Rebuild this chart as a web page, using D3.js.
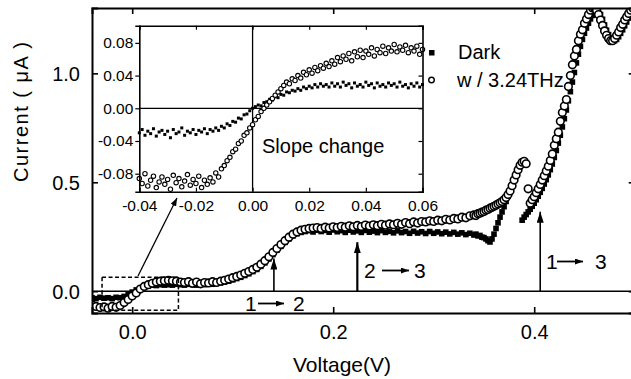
<!DOCTYPE html>
<html>
<head>
<meta charset="utf-8">
<script src="https://cdn.jsdelivr.net/npm/d3@7"></script>
<style>
  html, body { margin: 0; padding: 0; background: #fff; }
  svg { display: block; }
  text { font-family: "Liberation Sans", Arial, Helvetica, sans-serif; fill: #000; }
</style>
</head>
<body>
<svg id="chart" width="631" height="379"></svg>
<script>
// ---------------- DATA ----------------
const xTicks = [0.0, 0.2, 0.4];
const yTicks = [0.0, 0.5, 1.0];
const insetXTicks = [-0.04, -0.02, 0.00, 0.02, 0.04, 0.06];
const insetYTicks = [-0.08, -0.04, 0.00, 0.04, 0.08];
const seriesNames = ["Dark", "w / 3.24THz"];

// Main plot sampling: segment A from -0.040 V step 0.004 V (95 pts), segment B from 0.340 V step 0.002 V (81 pts)
const segA = { start: -0.04, step: 0.004, n: 95 };
const segB = { start: 0.34, step: 0.002, n: 81 };

const thzA = [-0.062,-0.070,-0.075,-0.072,-0.078,-0.070,-0.074,-0.066,-0.052,-0.038,
  -0.022,-0.008,0.010,0.022,0.030,0.036,0.042,0.046,0.048,0.050,
  0.048,0.046,0.042,0.040,0.044,0.036,0.042,0.034,0.040,0.038,
  0.044,0.040,0.046,0.050,0.056,0.062,0.068,0.074,0.082,0.090,
  0.100,0.110,0.124,0.140,0.158,0.178,0.196,0.214,0.232,0.248,
  0.262,0.272,0.280,0.284,0.288,0.290,0.292,0.288,0.294,0.290,
  0.296,0.292,0.298,0.294,0.300,0.296,0.302,0.297,0.304,0.299,
  0.305,0.301,0.307,0.303,0.309,0.305,0.312,0.307,0.315,0.310,
  0.318,0.313,0.320,0.318,0.323,0.320,0.326,0.323,0.330,0.327,
  0.334,0.332,0.340,0.337,0.346];
const thzB = [0.350,0.347,0.356,0.358,0.363,0.366,0.372,0.375,0.381,0.385,
  0.390,0.395,0.400,0.406,0.412,0.420,0.430,0.444,0.460,0.484,
  0.510,0.534,0.558,0.578,0.592,0.596,0.585,0.470,0.404,0.420,
  0.434,0.452,0.470,0.490,0.510,0.530,0.552,0.574,0.600,0.630,
  0.670,0.700,0.730,0.780,0.820,0.850,0.880,0.940,0.990,1.040,
  1.080,1.110,1.150,1.180,1.200,1.230,1.250,1.270,1.290,1.300,
  1.300,1.290,1.270,1.245,1.220,1.195,1.175,1.160,1.150,1.150,
  1.160,1.175,1.190,1.210,1.225,1.245,1.260,1.275,1.290,1.300,
  1.310];
const darkA = [-0.030,-0.034,-0.028,-0.032,-0.030,-0.034,-0.028,-0.030,-0.024,-0.014,
  -0.004,0.006,0.012,0.020,0.024,0.028,0.026,0.030,0.028,0.030,
  0.028,0.032,0.030,0.028,0.032,0.030,0.028,0.032,0.030,0.034,
  0.032,0.036,0.038,0.042,0.046,0.052,0.058,0.064,0.072,0.080,
  0.090,0.100,0.114,0.130,0.148,0.168,0.188,0.206,0.224,0.240,
  0.254,0.264,0.270,0.274,0.278,0.272,0.280,0.274,0.279,0.271,
  0.281,0.273,0.278,0.270,0.280,0.272,0.277,0.270,0.279,0.271,
  0.276,0.269,0.278,0.270,0.275,0.268,0.277,0.269,0.274,0.266,
  0.275,0.267,0.273,0.265,0.274,0.266,0.272,0.264,0.271,0.263,
  0.270,0.262,0.268,0.260,0.266];
const darkB = [0.258,0.262,0.254,0.256,0.248,0.246,0.240,0.232,0.226,0.240,
  0.262,0.288,0.314,0.340,0.364,0.388,0.412,0.436,0.460,0.486,
  0.512,0.538,0.556,null,0.326,0.340,0.352,0.364,0.376,0.390,
  0.404,0.420,0.436,0.454,0.472,0.492,0.512,0.534,0.558,0.584,
  0.614,0.646,0.680,0.716,0.754,0.792,0.832,0.874,0.916,0.960,
  1.004,1.048,1.088,1.124,1.156,1.184,1.208,1.230,1.250,1.266,
  1.280,1.288,1.284,1.270,1.248,1.222,1.198,1.178,1.162,1.152,
  1.150,1.156,1.168,1.184,1.200,1.218,1.236,1.254,1.270,1.286,
  1.300];

// Inset sampling: from -0.040 V step 0.001 V (101 pts)
const insetSeg = { start: -0.04, step: 0.001, n: 101 };
const insetThz = [-0.086,-0.092,-0.080,-0.095,-0.088,-0.083,-0.097,-0.090,-0.084,-0.093,
  -0.087,-0.099,-0.082,-0.091,-0.086,-0.096,-0.089,-0.081,-0.094,-0.087,
  -0.092,-0.083,-0.097,-0.088,-0.093,-0.085,-0.090,-0.079,-0.084,-0.074,
  -0.070,-0.064,-0.060,-0.053,-0.050,-0.043,-0.040,-0.033,-0.030,-0.024,
  -0.020,-0.014,-0.010,-0.004,0.000,0.004,0.008,0.012,0.016,0.020,
  0.024,0.028,0.032,0.030,0.036,0.034,0.040,0.037,0.044,0.041,
  0.047,0.043,0.050,0.046,0.052,0.049,0.055,0.051,0.058,0.054,
  0.062,0.057,0.064,0.060,0.067,0.058,0.069,0.063,0.071,0.062,
  0.070,0.066,0.074,0.064,0.072,0.068,0.076,0.067,0.074,0.070,
  0.078,0.069,0.075,0.071,0.077,0.068,0.074,0.070,0.076,0.066,
  0.072];
const insetDark = [-0.030,-0.026,-0.033,-0.028,-0.031,-0.025,-0.034,-0.029,-0.027,-0.032,
  -0.028,-0.036,-0.026,-0.031,-0.029,-0.024,-0.033,-0.028,-0.030,-0.026,
  -0.032,-0.027,-0.029,-0.025,-0.031,-0.026,-0.028,-0.024,-0.027,-0.022,
  -0.024,-0.019,-0.021,-0.016,-0.017,-0.012,-0.013,-0.008,-0.007,-0.003,
  0.000,0.002,0.004,0.003,0.007,0.008,0.011,0.010,0.014,0.013,
  0.017,0.016,0.020,0.019,0.022,0.021,0.024,0.022,0.026,0.024,
  0.027,0.025,0.029,0.026,0.030,0.027,0.029,0.026,0.031,0.027,
  0.030,0.026,0.032,0.028,0.030,0.025,0.031,0.027,0.029,0.026,
  0.032,0.028,0.030,0.025,0.031,0.027,0.029,0.026,0.031,0.028,
  0.030,0.026,0.032,0.027,0.029,0.025,0.030,0.027,0.031,0.026,
  0.029];

// Annotations (data coords)
const arrows = [
  { label: ["1", "2"], v: 0.141, top: 0.150 },
  { label: ["2", "3"], v: 0.224, top: 0.225 },
  { label: ["1", "3"], v: 0.406, top: 0.365 }
];
const zoomBox = { v0: -0.030, v1: 0.046, i0: -0.087, i1: 0.064 };

// ---------------- BUILD ----------------
function build(seg, vals) {
  return vals.map((y, i) => ({ v: +(seg.start + i * seg.step).toFixed(4), y }))
             .filter(d => d.y !== null);
}
const thz = build(segA, thzA).concat(build(segB, thzB));
const dark = build(segA, darkA).concat(build(segB, darkB));
const iThz = build(insetSeg, insetThz);
const iDark = build(insetSeg, insetDark);

const svg = d3.select("#chart");
const L = 92, R = 634.7, T = 8, B = 313;

const x = d3.scaleLinear().domain([-0.04, 0.5]).range([L, R]);
const y = d3.scaleLinear().domain([-0.1, 1.3]).range([B, T]);

const defs = svg.append("defs");
defs.append("clipPath").attr("id", "clipMain")
  .append("rect").attr("x", L).attr("y", T).attr("width", R - L).attr("height", B - T);
function marker(id, w, h) {
  defs.append("marker").attr("id", id)
    .attr("viewBox", `0 0 ${w} ${h}`).attr("refX", w).attr("refY", h / 2)
    .attr("markerWidth", w).attr("markerHeight", h).attr("markerUnits", "userSpaceOnUse")
    .attr("orient", "auto")
    .append("path").attr("d", `M0,0L${w},${h/2}L0,${h}Z`).attr("fill", "#000");
}
marker("headBig", 11, 7);
marker("headSmall", 8, 6);

const fmt1 = d3.format(".1f");
const fmt2 = v => d3.format(".2f")(v).replace("\u2212", "-");

// zero line
svg.append("line").attr("x1", L).attr("x2", R).attr("y1", y(0)).attr("y2", y(0))
  .attr("stroke", "#000").attr("stroke-width", 1.6);

// data (main)
const gData = svg.append("g").attr("clip-path", "url(#clipMain)");
gData.selectAll("rect.dk").data(dark).join("rect").attr("class", "dk")
  .attr("x", d => x(d.v) - 2.8).attr("y", d => y(d.y) - 2.8)
  .attr("width", 5.6).attr("height", 5.6).attr("fill", "#000");
gData.selectAll("circle.tz").data(thz).join("circle").attr("class", "tz")
  .attr("cx", d => x(d.v)).attr("cy", d => y(d.y)).attr("r", 3.8)
  .attr("fill", "#fff").attr("stroke", "#000").attr("stroke-width", 1.6);

// axes frame
const axisG = svg.append("g");
const gB = axisG.append("g").attr("transform", `translate(0,${B})`)
  .call(d3.axisBottom(x).tickValues(xTicks).tickSize(-6).tickPadding(12).tickFormat(fmt1));
axisG.append("g").attr("transform", `translate(0,${T})`)
  .call(d3.axisTop(x).tickValues(xTicks).tickSize(-6).tickFormat(""));
const gL = axisG.append("g").attr("transform", `translate(${L},0)`)
  .call(d3.axisLeft(y).tickValues(yTicks).tickSize(-6).tickPadding(12).tickFormat(fmt1));
axisG.append("g").attr("transform", `translate(${R},0)`)
  .call(d3.axisRight(y).tickValues(yTicks).tickSize(-6).tickFormat(""));
axisG.selectAll(".domain").attr("stroke", "#000").attr("stroke-width", 2);
axisG.selectAll(".tick line").attr("stroke-width", 1.6);
axisG.selectAll(".tick text").attr("font-size", 20)
  .attr("font-family", "'Liberation Sans', Arial, sans-serif").attr("fill", "#000");
gL.selectAll(".tick text").attr("dy", "0.35em");

// axis titles
svg.append("text").attr("x", 342).attr("y", 372).attr("text-anchor", "middle")
  .attr("font-size", 21).text("Voltage(V)");
svg.append("text").attr("transform", "translate(28,112) rotate(-90)")
  .attr("text-anchor", "middle").attr("font-size", 20)
  .attr("textLength", 140).attr("lengthAdjust", "spacing")
  .text("Current ( \u03bcA )");

// ---- zoom box + pointer ----
svg.append("rect")
  .attr("x", x(zoomBox.v0)).attr("y", y(zoomBox.i1))
  .attr("width", x(zoomBox.v1) - x(zoomBox.v0)).attr("height", y(zoomBox.i0) - y(zoomBox.i1))
  .attr("fill", "none").attr("stroke", "#000").attr("stroke-width", 1.5)
  .attr("stroke-dasharray", "4,2.5");
svg.append("line").attr("x1", 138).attr("y1", 276).attr("x2", 177).attr("y2", 198)
  .attr("stroke", "#000").attr("stroke-width", 1.3).attr("marker-end", "url(#headSmall)");

// ---- transition arrows ----
arrows.forEach((a, k) => {
  svg.append("line").attr("x1", x(a.v)).attr("x2", x(a.v))
    .attr("y1", y(0)).attr("y2", y(a.top))
    .attr("stroke", "#000").attr("stroke-width", k === 1 ? 2.2 : 1.6)
    .attr("marker-end", "url(#headBig)");
});
function transLabel(x0, base, a, b, arrowX0, arrowX1, bx) {
  svg.append("text").attr("x", x0).attr("y", base).attr("font-size", 21).text(a);
  svg.append("line").attr("x1", arrowX0).attr("x2", arrowX1)
    .attr("y1", base - 7.5).attr("y2", base - 7.5)
    .attr("stroke", "#000").attr("stroke-width", 1.8).attr("marker-end", "url(#headSmall)");
  svg.append("text").attr("x", bx).attr("y", base).attr("font-size", 21).text(b);
}
transLabel(245, 311, arrows[0].label[0], arrows[0].label[1], 258, 284, 293);
transLabel(364, 278, arrows[1].label[0], arrows[1].label[1], 382, 409, 414);
transLabel(546, 269, arrows[2].label[0], arrows[2].label[1], 557, 583, 595);

// ---- legend ----
svg.append("rect").attr("x", 429).attr("y", 50).attr("width", 5.5).attr("height", 5.5).attr("fill", "#000");
svg.append("text").attr("x", 458).attr("y", 59).attr("font-size", 20).text(seriesNames[0]);
svg.append("circle").attr("cx", 431.5).attr("cy", 80).attr("r", 2.8)
  .attr("fill", "#fff").attr("stroke", "#000").attr("stroke-width", 1.4);
svg.append("text").attr("x", 457).attr("y", 87).attr("font-size", 20).text(seriesNames[1]);

// ---------------- INSET ----------------
const IL = 139.3, IR = 422.5, IT = 25.7, IB = 191.7;
const ix = d3.scaleLinear().domain([-0.04, 0.06]).range([IL, IR]);
const iy = d3.scaleLinear().domain([-0.102, 0.101]).range([IB, IT]);
const ins = svg.append("g");
ins.append("rect").attr("x", IL).attr("y", IT).attr("width", IR - IL).attr("height", IB - IT)
  .attr("fill", "#fff");
ins.append("line").attr("x1", IL).attr("x2", IR).attr("y1", iy(0)).attr("y2", iy(0))
  .attr("stroke", "#000").attr("stroke-width", 1.3);
ins.append("line").attr("x1", ix(0)).attr("x2", ix(0)).attr("y1", IT).attr("y2", IB)
  .attr("stroke", "#000").attr("stroke-width", 1.3);
ins.selectAll("rect.idk").data(iDark).join("rect").attr("class", "idk")
  .attr("x", d => ix(d.v) - 1.5).attr("y", d => iy(d.y) - 1.5)
  .attr("width", 3).attr("height", 3).attr("fill", "#000");
ins.selectAll("circle.itz").data(iThz).join("circle").attr("class", "itz")
  .attr("cx", d => ix(d.v)).attr("cy", d => iy(d.y)).attr("r", 2.2)
  .attr("fill", "#fff").attr("stroke", "#000").attr("stroke-width", 1.1);
const insAx = ins.append("g");
insAx.append("g").attr("transform", `translate(0,${IB})`)
  .call(d3.axisBottom(ix).tickValues(insetXTicks).tickSize(-4).tickPadding(8).tickFormat(fmt2));
insAx.append("g").attr("transform", `translate(0,${IT})`)
  .call(d3.axisTop(ix).tickValues(insetXTicks).tickSize(-4).tickFormat(""));
insAx.append("g").attr("transform", `translate(${IL},0)`)
  .call(d3.axisLeft(iy).tickValues(insetYTicks).tickSize(4).tickPadding(2).tickFormat(fmt2));
insAx.append("g").attr("transform", `translate(${IR},0)`)
  .call(d3.axisRight(iy).tickValues(insetYTicks).tickSize(-4).tickFormat(""));
insAx.selectAll(".domain").attr("stroke", "#000").attr("stroke-width", 1.6);
insAx.selectAll(".tick line").attr("stroke", "#000").attr("stroke-width", 1.2);
insAx.selectAll(".tick text").attr("font-size", 15.5)
  .attr("font-family", "'Liberation Sans', Arial, sans-serif").attr("fill", "#000");
ins.append("text").attr("x", 262).attr("y", 153).attr("font-size", 20).text("Slope change");
</script>
</body>
</html>
